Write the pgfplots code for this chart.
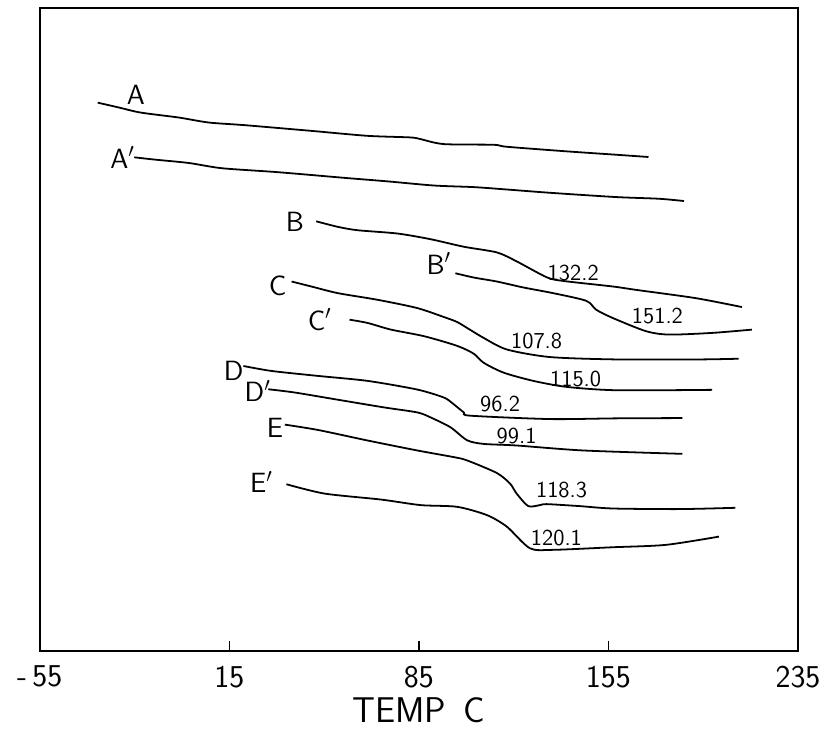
\documentclass[border=0pt]{standalone}
\usepackage{pgfplots}
\pgfplotsset{compat=1.18}

\tikzset{
  lbl/.style={font=\sffamily\fontsize{14}{16}\selectfont},
  num/.style={font=\sffamily\fontsize{11.5}{13}\selectfont},
}

\begin{document}
\begin{tikzpicture}
\begin{axis}[
  name=ax,
  scale only axis,
  width=381.5pt, height=323.5pt,
  xmin=-55, xmax=225,
  ymin=8, ymax=655, y dir=reverse,
  axis line style={line width=1.2pt},
  xtick={-55,15,85,155,225},
  xticklabels={\textsf{-\,55},\textsf{15},\textsf{85},\textsf{155},\textsf{235}},
  ytick=\empty,
  xtick pos=bottom,
  tick align=inside,
  major tick length=5pt,
  tick style={line width=0.8pt, black},
  /pgf/number format/assume math mode=true,
  ticklabel style={font=\sffamily\fontsize{16}{18}\selectfont, yshift=-4pt},
  xlabel={TEMP\enspace C},
  xlabel style={font=\sffamily\fontsize{18}{20}\selectfont, yshift=2pt},
  cycle list={{black, solid, no marks}},
  every axis plot/.append style={line width=0.9pt, smooth, tension=0.45},
]
% A
\addplot coordinates {(-33.6,103.3) (-25.6,108.3) (-17.7,113.3) (-3.6,118.3) (7.4,123.3) (20.9,126) (45.3,131.7) (66.1,136.7) (81.9,138.3) (85.6,140) (94.2,145) (112.6,145.7) (117.5,147.7) (139.5,152.3) (157.8,155.7) (169.8,158)};
% A'
\addplot coordinates {(-20.1,158.3) (-12.2,160.7) (0.0,164) (12.3,169.3) (33.1,173.3) (57.6,179) (73.4,182.5) (90.6,186.7) (105.3,188.3) (117.5,190.7) (133.4,194) (157.8,198.3) (173.6,200) (182.9,202.3)};
% B
\addplot coordinates {(47.1,222.7) (55.1,228.3) (62.4,231.7) (77.1,235) (89.3,240.7) (101.6,248.3) (113.8,254) (121.1,263) (132.2,279) (138.3,282.7) (156.6,288.3) (165.2,291.7) (187.2,300) (204.3,309)};
% B'
\addplot coordinates {(98.5,275) (105.3,279.3) (113.8,283.3) (123.6,289.3) (134.6,295) (146.8,302.7) (150.5,311.7) (156.6,320) (168.9,333.3) (177.4,336.7) (193.3,335) (208.0,331.7)};
% C
\addplot coordinates {(38.0,283.3) (45.3,288.3) (55.1,295) (69.8,301.7) (84.4,310) (94.2,319) (99.1,324) (104.0,332) (108.9,340) (117.5,351.7) (133.4,359.3) (157.8,361.7) (188.4,361.7) (203.1,361)};
% C'
\addplot coordinates {(59.4,321.7) (66.1,325) (74.7,331.7) (86.9,338.3) (99.1,348) (105.3,356) (108.9,365) (116.3,375) (127.3,383.3) (139.5,389.3) (157.8,392.7) (193.3,392.3)};
% D
\addplot coordinates {(20.2,368.3) (30.6,373.3) (47.8,378.3) (66.1,383.3) (84.4,392) (94.2,400) (97.5,406) (101.6,415) (104.0,418.3) (133.4,421.7) (157.8,421) (182.3,420.7)};
% D'
\addplot coordinates {(29.4,391.7) (39.2,395) (53.9,401.7) (72.2,410) (84.4,415) (89.3,420) (96.7,430) (102.8,443) (108.9,446.7) (121.1,448.3) (145.6,453.3) (182.3,456.7)};
% E
\addplot coordinates {(35.5,427.3) (47.8,432.7) (66.1,443.3) (84.4,453.3) (97.9,460) (102.8,463.3) (113.8,476) (118.7,486.7) (121.1,496.7) (125.4,509.3) (129.7,508.3) (132.2,507.3) (144.4,509.3) (156.6,511.7) (181.1,512.3) (201.9,511)};
% E'
\addplot coordinates {(36.1,487.3) (50.2,496.7) (71.0,502.7) (85.7,508.3) (99.1,510) (110.1,518.3) (117.5,530) (126.0,551.7) (134.6,553.3) (156.6,550.7) (176.2,548.3) (195.8,540)};

% trace names
\node[lbl] at (axis cs:-19.5,95) {A};
\node[lbl] at (axis cs:-24.4,158.3) {A$'$};
\node[lbl] at (axis cs:39.2,223.3) {B};
\node[lbl] at (axis cs:92.4,265) {B$'$};
\node[lbl] at (axis cs:32.8,287.7) {C};
\node[lbl] at (axis cs:48.4,321.7) {C$'$};
\node[lbl] at (axis cs:16.6,373.3) {D};
\node[lbl] at (axis cs:25.5,393.3) {D$'$};
\node[lbl] at (axis cs:31.9,430.7) {E};
\node[lbl] at (axis cs:26.9,485) {E$'$};

% transition temperatures
\node[num] at (axis cs:142.0,275) {132.2};
\node[num] at (axis cs:173.1,318.3) {151.2};
\node[num] at (axis cs:128.5,343.3) {107.8};
\node[num] at (axis cs:142.9,381.7) {115.0};
\node[num] at (axis cs:115.0,406.7) {96.2};
\node[num] at (axis cs:121.1,438.3) {99.1};
\node[num] at (axis cs:137.7,493.3) {118.3};
\node[num] at (axis cs:135.8,541.7) {120.1};
\end{axis}
\path (ax.south west) ++(-20pt,-36.5pt) rectangle ++(413.5pt,364pt);
\end{tikzpicture}
\end{document}
